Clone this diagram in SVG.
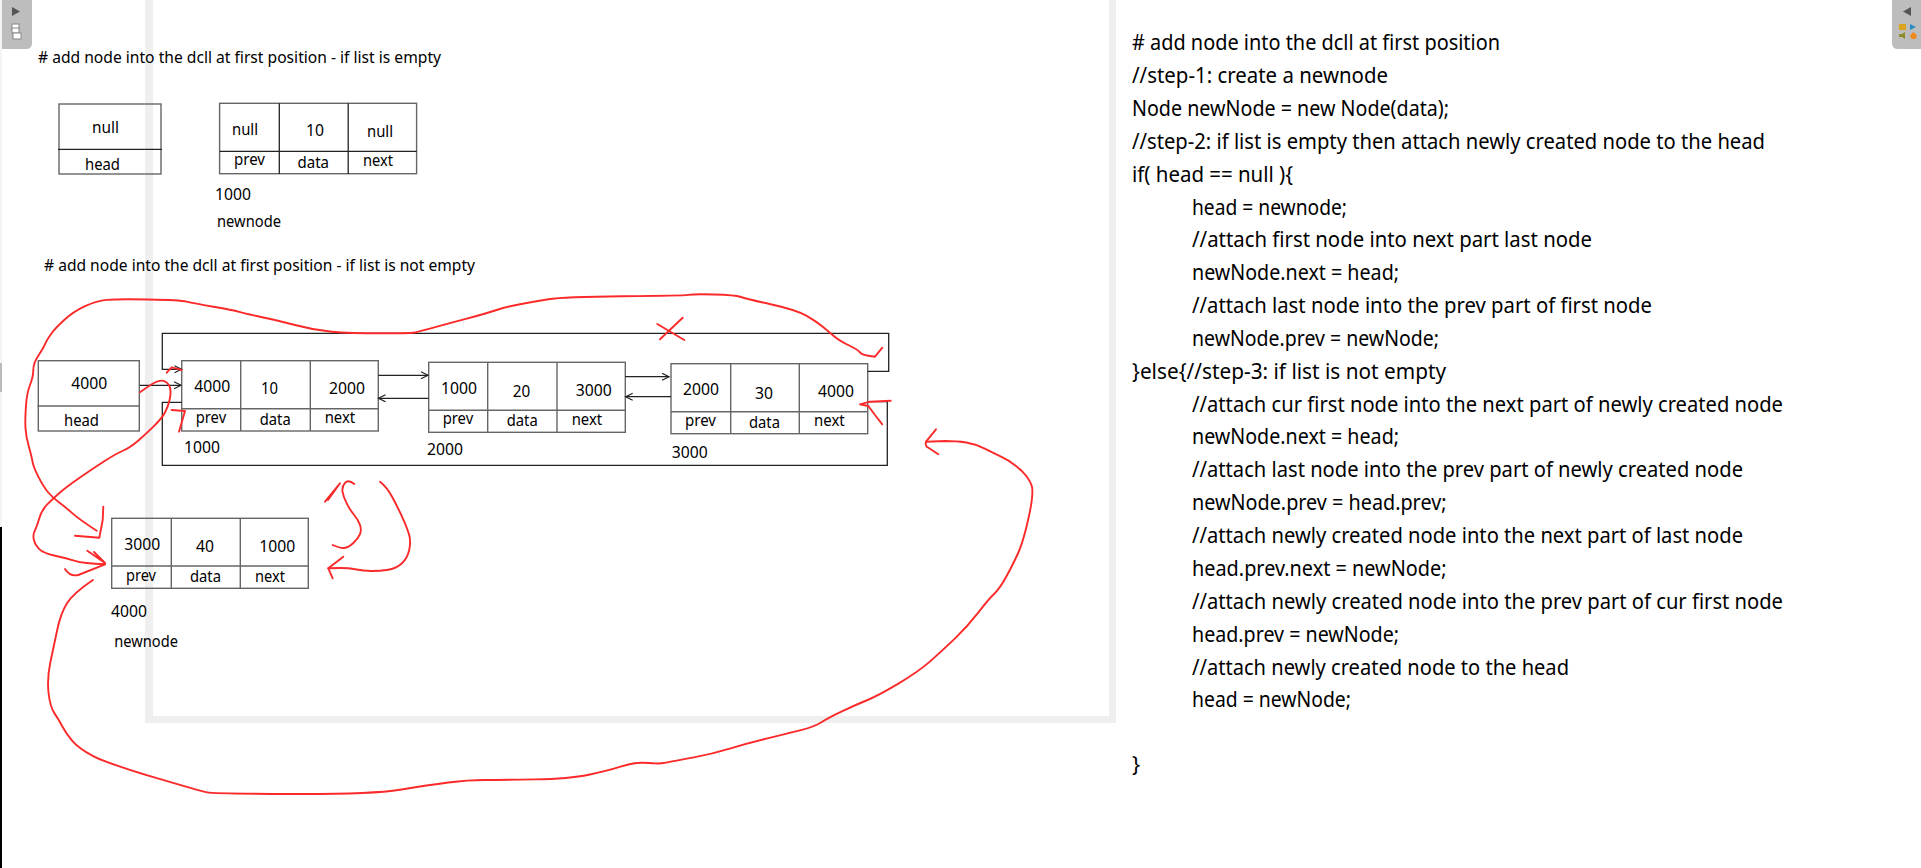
<svg xmlns="http://www.w3.org/2000/svg" width="1921" height="868" viewBox="0 0 1921 868">
<style>
text{font-family:"Noto Sans","Liberation Sans",sans-serif;fill:#000}
.v{font-size:16.500px}.l{font-size:16px}.h{font-size:15.500px}.c{font-size:21.500px}
.b{fill:none;stroke:#666;stroke-width:1.4}
.d{stroke:#222;stroke-width:1.3}
.k{fill:none;stroke:#222;stroke-width:1.3}
.r{fill:none;stroke:#fb2a2a;stroke-width:1.9;stroke-linejoin:round;stroke-linecap:round}
.bar{fill:#efefef}
.p{fill:#bdbdbd}
</style>
<defs><marker id="a" markerWidth="10" markerHeight="10" refX="8" refY="4" orient="auto" markerUnits="userSpaceOnUse"><path d="M1 0.500L8 4L1 7.500" fill="none" stroke="#222" stroke-width="1.2"/></marker></defs>
<rect width="1921" height="868" fill="#fff"/>
<g id="frame">
<rect class="bar" x="145" y="0" width="8" height="722"/>
<rect class="bar" x="1109" y="0" width="7" height="722"/>
<rect class="bar" x="145" y="716" width="971" height="7"/>
<rect x="0" y="0" width="2" height="527" fill="#f4f4f4"/>
<rect x="0" y="363" width="2" height="29" fill="#bbb"/>
<rect x="0" y="527" width="2" height="341" fill="#000"/>
</g>
<g id="left-panel">
<path class="p" d="M2 0H32V43Q32 49 26 49H2Z"/>
<path d="M12 7L20 11.500L12 16Z" fill="#555"/>
<rect x="12" y="24" width="7" height="5" fill="#fff" stroke="#888"/>
<rect x="12" y="28" width="7" height="5" fill="#fff" stroke="#888"/>
<rect x="13" y="33" width="8" height="6" fill="#fff" stroke="#888"/>
</g>
<g id="right-panel">
<path class="p" d="M1921 0H1892V43Q1892 49 1898 49H1921Z"/>
<path d="M1903 11.500L1911 7V16Z" fill="#555"/>
<rect x="1899" y="24" width="7" height="6" fill="#d9a520"/>
<path d="M1910 24L1916 27L1910 30Z" fill="#2a8fc0"/>
<path d="M1899 34H1902L1905 32V39L1902 37H1899Z" fill="#8f8a2a"/>
<path d="M1913.500 32L1917 35.500L1915.500 39H1911.500L1910 35.500Z" fill="#f08a20"/>
</g>
<g id="heading-empty"><text class="h" x="38" y="63" textLength="403" lengthAdjust="spacingAndGlyphs"># add node into the dcll at first position - if list is empty</text></g>
<g id="heading-not-empty"><text class="h" x="44" y="271" textLength="431" lengthAdjust="spacingAndGlyphs"># add node into the dcll at first position - if list is not empty</text></g>
<g id="head-null">
<rect class="b" x="59" y="104" width="102" height="70"/><path class="d" d="M58 149.300H162"/>
<text class="v" x="92" y="133" textLength="27" lengthAdjust="spacingAndGlyphs">null</text>
<text class="l" x="85" y="170" textLength="35" lengthAdjust="spacingAndGlyphs">head</text>
</g>
<g id="node-empty">
<rect class="b" x="219.600" y="103.300" width="197" height="70.400"/><path class="d" d="M219.600 151.300H416.600M279.300 103.300V174M348.200 103.300V174"/>
<text class="v" x="232" y="135" textLength="26" lengthAdjust="spacingAndGlyphs">null</text>
<text class="v" x="306" y="136" textLength="18" lengthAdjust="spacingAndGlyphs">10</text>
<text class="v" x="367" y="137" textLength="26" lengthAdjust="spacingAndGlyphs">null</text>
<text class="l" x="234" y="165" textLength="31" lengthAdjust="spacingAndGlyphs">prev</text>
<text class="l" x="297.500" y="167.700" textLength="31.500" lengthAdjust="spacingAndGlyphs">data</text>
<text class="l" x="363" y="166" textLength="30" lengthAdjust="spacingAndGlyphs">next</text>
<text class="v" x="215" y="200" textLength="36" lengthAdjust="spacingAndGlyphs">1000</text>
<text class="l" x="217" y="226.700" textLength="64" lengthAdjust="spacingAndGlyphs">newnode</text>
</g>
<g id="head">
<rect class="b" x="38.300" y="360.700" width="101" height="70.300"/><path class="b" d="M37.500 406H139.300"/>
<text class="v" x="71.300" y="389" textLength="36" lengthAdjust="spacingAndGlyphs">4000</text>
<text class="l" x="64" y="425.700" textLength="35" lengthAdjust="spacingAndGlyphs">head</text>
</g>
<g id="node-1000">
<rect class="b" x="181.700" y="360.700" width="196.600" height="70.300"/><path class="b" d="M181.700 408.700H378.300M240.700 360.700V431M310.300 360.700V431"/>
<text class="v" x="194.300" y="392" textLength="36" lengthAdjust="spacingAndGlyphs">4000</text>
<text class="v" x="261" y="394" textLength="17" lengthAdjust="spacingAndGlyphs">10</text>
<text class="v" x="329" y="394" textLength="36" lengthAdjust="spacingAndGlyphs">2000</text>
<text class="l" x="195.700" y="423.300" textLength="30.500" lengthAdjust="spacingAndGlyphs">prev</text>
<text class="l" x="259.700" y="425" textLength="31" lengthAdjust="spacingAndGlyphs">data</text>
<text class="l" x="324.700" y="423" textLength="30.500" lengthAdjust="spacingAndGlyphs">next</text>
<text class="v" x="184" y="453" textLength="36" lengthAdjust="spacingAndGlyphs">1000</text>
</g>
<g id="node-2000">
<rect class="b" x="428.700" y="362.300" width="196.600" height="70"/><path class="b" d="M428.700 410.300H625.300M487.700 362.300V432.300M557 362.300V432.300"/>
<text class="v" x="441" y="394" textLength="36" lengthAdjust="spacingAndGlyphs">1000</text>
<text class="v" x="512.700" y="396.700" textLength="17.500" lengthAdjust="spacingAndGlyphs">20</text>
<text class="v" x="575.700" y="396" textLength="36" lengthAdjust="spacingAndGlyphs">3000</text>
<text class="l" x="442.700" y="424" textLength="30.500" lengthAdjust="spacingAndGlyphs">prev</text>
<text class="l" x="506.700" y="426" textLength="31" lengthAdjust="spacingAndGlyphs">data</text>
<text class="l" x="571.700" y="425" textLength="30.500" lengthAdjust="spacingAndGlyphs">next</text>
<text class="v" x="427" y="455" textLength="36" lengthAdjust="spacingAndGlyphs">2000</text>
</g>
<g id="node-3000">
<rect class="b" x="671" y="363.700" width="196.700" height="70"/><path class="b" d="M671 411.700H867.700M730.700 363.700V433.700M799.300 363.700V433.700"/>
<text class="v" x="683" y="395" textLength="36" lengthAdjust="spacingAndGlyphs">2000</text>
<text class="v" x="755" y="399" textLength="18" lengthAdjust="spacingAndGlyphs">30</text>
<text class="v" x="818" y="396.700" textLength="36" lengthAdjust="spacingAndGlyphs">4000</text>
<text class="l" x="685" y="426" textLength="31" lengthAdjust="spacingAndGlyphs">prev</text>
<text class="l" x="749" y="427.700" textLength="31" lengthAdjust="spacingAndGlyphs">data</text>
<text class="l" x="814" y="426" textLength="30.700" lengthAdjust="spacingAndGlyphs">next</text>
<text class="v" x="671.700" y="458" textLength="36" lengthAdjust="spacingAndGlyphs">3000</text>
</g>
<g id="node-4000">
<rect class="b" x="111.700" y="518.300" width="196.600" height="70"/><path class="b" d="M111.700 566H308.300M171.300 518.300V588.300M240.300 518.300V588.300"/>
<text class="v" x="124.300" y="550" textLength="36" lengthAdjust="spacingAndGlyphs">3000</text>
<text class="v" x="196" y="552" textLength="18" lengthAdjust="spacingAndGlyphs">40</text>
<text class="v" x="259.300" y="552" textLength="36" lengthAdjust="spacingAndGlyphs">1000</text>
<text class="l" x="126" y="580.700" textLength="30" lengthAdjust="spacingAndGlyphs">prev</text>
<text class="l" x="190" y="581.700" textLength="31" lengthAdjust="spacingAndGlyphs">data</text>
<text class="l" x="255" y="581.700" textLength="30" lengthAdjust="spacingAndGlyphs">next</text>
<text class="v" x="111" y="616.700" textLength="36" lengthAdjust="spacingAndGlyphs">4000</text>
<text class="l" x="114.300" y="647.300" textLength="63.600" lengthAdjust="spacingAndGlyphs">newnode</text>
</g>
<g id="connectors">
<path class="k" d="M139.700 385.300H181" marker-end="url(#a)"/>
<path class="k" d="M867.700 371.300H888.700V333.300H162.300V369.300H181.500" marker-end="url(#a)"/>
<path class="k" d="M867.700 401.700H887.300V465.300H162.300V402.300H181.700"/>
<path class="k" d="M378.300 375.300H428" marker-end="url(#a)"/>
<path class="k" d="M428.700 398.300H378.500" marker-end="url(#a)"/>
<path class="k" d="M625.300 376.700H669" marker-end="url(#a)"/>
<path class="k" d="M671 396.700H625.700" marker-end="url(#a)"/>
</g>
<g id="annotations">
<path class="r" d="M103.300 506.700L102.700 520L99.300 537.700L75 535.700"/>
<path class="r" d="M96.700 530.700Q80 520 72.500 513.400Q65 506.700 59.200 502.500Q53.300 498.300 48.300 492.500Q43.300 486.700 38.300 476.700Q33.300 466.700 32.500 461.700Q31.700 456.700 28.900 446.700Q26 436.700 25.500 428.400Q25 420 25.900 406.700Q26.700 393.300 30 385Q33.300 376.700 33.300 370Q33.300 363.300 38.300 355.800Q43.300 348.300 45 344.200Q46.700 340 50.900 334.200Q55 328.300 64.200 320Q73.300 311.700 85 306.200Q96.700 300.700 106.700 299.900Q116.700 299 148.400 299.500Q180 300 186.700 301.700Q193.300 303.300 213.300 306.700Q233.300 310 238.300 311.700Q243.300 313.300 260 316.700Q276.700 320 295 325Q313.300 330 331.700 331.700Q350 333.300 380 333.300Q410 333.300 413.400 332.800Q416.700 332.300 429.900 328.700Q443 325 464.900 319.200Q486.700 313.300 496.700 310Q506.700 306.700 520 304.200Q533.300 301.700 548.300 299.200Q563.300 296.700 623.300 296.200Q683.300 295.700 688.300 294.900Q693.300 294 714.200 294.500Q735 295 740.900 297Q746.700 299 771.700 304.500Q796.700 310 806.700 315.900Q816.700 321.700 823.400 327.200Q830 332.700 835 336.900Q840 341 849.200 345.500Q858.300 350 860 352.400Q861.700 354.700 868.400 355.700L875 356.700L882.300 347.700"/>
<path class="r" d="M140 392.300Q150 385 155 382.500Q160 380 163.400 380.900Q166.700 381.700 168.900 385Q171 388.300 170.500 394.200Q170 400 167.900 405.900Q165.700 411.700 162.900 415.900Q160 420 153.400 426.700Q146.700 433.300 138.400 440.500Q130 447.700 123.400 450.500Q116.700 453.300 105 460.800Q93.300 468.300 80 477.500Q66.700 486.700 60 492.500Q53.300 498.300 47.500 504.200Q41.700 510 39.200 518.400Q36.700 526.700 34.700 530.900Q32.700 535 33.900 540Q35 545 39.200 549.200Q43.300 553.300 55 555.800Q66.700 558.300 75 560.800Q83.300 563.300 105 564.300"/>
<path class="r" d="M87.300 550.700L105 563L94 552M105 564.300L78.300 575Q70 577 65 569"/>
<path class="r" d="M166.700 372.700L171.700 367.300L181.700 370"/>
<path class="r" d="M171.700 410L185 411L179 431.700"/>
<path class="r" d="M354.300 484Q348.300 479 345 482.900Q341.700 486.700 342.500 491.700Q343.300 496.700 346.700 503.400Q350 510 354.200 515Q358.300 520 360 525Q361.700 530 360 534.200Q358.300 538.300 353.300 543Q348.300 547.700 344.200 548Q340 548.300 332.700 545"/>
<path class="r" d="M325 501.700L340 483.300L328 500"/>
<path class="r" d="M380 481.700Q386.700 486.700 392.500 497.500Q398.300 508.300 402.800 518.300Q407.300 528.300 409.200 535Q411 541.700 409.200 550Q407.300 558.300 402 563.300Q396.700 568.300 388.400 569.700Q380 571 371.700 571Q363.300 571 355 569.200Q346.700 567.300 328.300 568.300"/>
<path class="r" d="M343.300 556.700L328.300 568.300L332.700 578.300"/>
<path class="r" d="M657.300 324L684.300 340M682.700 317.700L660 339.300"/>
<path class="r" d="M890.700 400.700L870 401.700L860 404.300L868.300 406L875 415L882.300 424.300"/>
<path class="r" d="M936 429.300L926 441.700Q925 444 926.500 446.500L938.300 454.300"/>
<path class="r" d="M926 441.700L944.900 441Q957.100 441 966.300 442.500Q975.500 444 984.700 448.700Q993.900 453.300 1001 456.700Q1008.200 460 1015.300 465.400Q1022.400 470.700 1026.500 476.200Q1030.600 481.700 1031.800 485.900Q1033 490 1031.800 500Q1030.600 510 1026.500 526.700Q1022.400 543.300 1018.400 552.500Q1014.300 561.700 1007.200 575Q1000 588.300 994.300 593.700Q988.600 599 978 612.900Q967.300 626.700 955.100 638.400Q942.900 650 930.700 660.900Q918.400 671.700 898 683.900Q877.600 696 866.400 700.500Q855.100 705 841.900 711.400Q828.600 717.700 821.500 722.200Q814.300 726.700 800 730.400Q785.700 734 767.400 738.400Q749 742.700 730.600 748.400Q712.200 754 693.900 757.400Q675.500 760.700 667.400 762.400Q659.200 764 655.100 763.400Q651 762.700 641.900 762.700Q632.700 762.700 620.500 766.700Q608.200 770.700 588.800 774.700Q569.400 778.700 534.700 779.400Q500 780 484 780Q467.900 780 448.300 782.500Q428.600 785 400 789.700Q371.400 794.300 292.900 794Q214.300 793.700 207.200 792.400Q200 791 153.500 777.200Q107 763.300 92.800 755.800Q78.600 748.300 72.300 740.800Q66 733.300 62.500 726.700Q59 720 54.500 713.400Q50 706.700 48.500 692.500Q47 678.300 50.300 662.500Q53.600 646.700 57.200 630Q60.700 613.300 67 603.300Q73.200 593.300 92.900 580"/>
</g>
<g id="code">
<text class="c" x="1132" y="50" textLength="368" lengthAdjust="spacingAndGlyphs"># add node into the dcll at first position</text>
<text class="c" x="1132" y="83" textLength="256" lengthAdjust="spacingAndGlyphs">//step-1: create a newnode</text>
<text class="c" x="1132" y="116" textLength="317" lengthAdjust="spacingAndGlyphs">Node newNode = new Node(data);</text>
<text class="c" x="1132" y="149" textLength="633" lengthAdjust="spacingAndGlyphs">//step-2: if list is empty then attach newly created node to the head</text>
<text class="c" x="1132" y="182" textLength="161" lengthAdjust="spacingAndGlyphs">if( head == null ){</text>
<text class="c" x="1192" y="215" textLength="155" lengthAdjust="spacingAndGlyphs">head = newnode;</text>
<text class="c" x="1192" y="247" textLength="400" lengthAdjust="spacingAndGlyphs">//attach first node into next part last node</text>
<text class="c" x="1192" y="280" textLength="207" lengthAdjust="spacingAndGlyphs">newNode.next = head;</text>
<text class="c" x="1192" y="313" textLength="460" lengthAdjust="spacingAndGlyphs">//attach last node into the prev part of first node</text>
<text class="c" x="1192" y="346" textLength="247" lengthAdjust="spacingAndGlyphs">newNode.prev = newNode;</text>
<text class="c" x="1132" y="379" textLength="314" lengthAdjust="spacingAndGlyphs">}else{//step-3: if list is not empty</text>
<text class="c" x="1192" y="412" textLength="591" lengthAdjust="spacingAndGlyphs">//attach cur first node into the next part of newly created node</text>
<text class="c" x="1192" y="444" textLength="207" lengthAdjust="spacingAndGlyphs">newNode.next = head;</text>
<text class="c" x="1192" y="477" textLength="551" lengthAdjust="spacingAndGlyphs">//attach last node into the prev part of newly created node</text>
<text class="c" x="1192" y="510" textLength="254.500" lengthAdjust="spacingAndGlyphs">newNode.prev = head.prev;</text>
<text class="c" x="1192" y="542.500" textLength="551" lengthAdjust="spacingAndGlyphs">//attach newly created node into the next part of last node</text>
<text class="c" x="1192" y="575.500" textLength="254.500" lengthAdjust="spacingAndGlyphs">head.prev.next = newNode;</text>
<text class="c" x="1192" y="608.500" textLength="591" lengthAdjust="spacingAndGlyphs">//attach newly created node into the prev part of cur first node</text>
<text class="c" x="1192" y="641.500" textLength="207" lengthAdjust="spacingAndGlyphs">head.prev = newNode;</text>
<text class="c" x="1192" y="674.500" textLength="377" lengthAdjust="spacingAndGlyphs">//attach newly created node to the head</text>
<text class="c" x="1192" y="707" textLength="159" lengthAdjust="spacingAndGlyphs">head = newNode;</text>
<text class="c" x="1132" y="772">}</text>
</g>
</svg>
